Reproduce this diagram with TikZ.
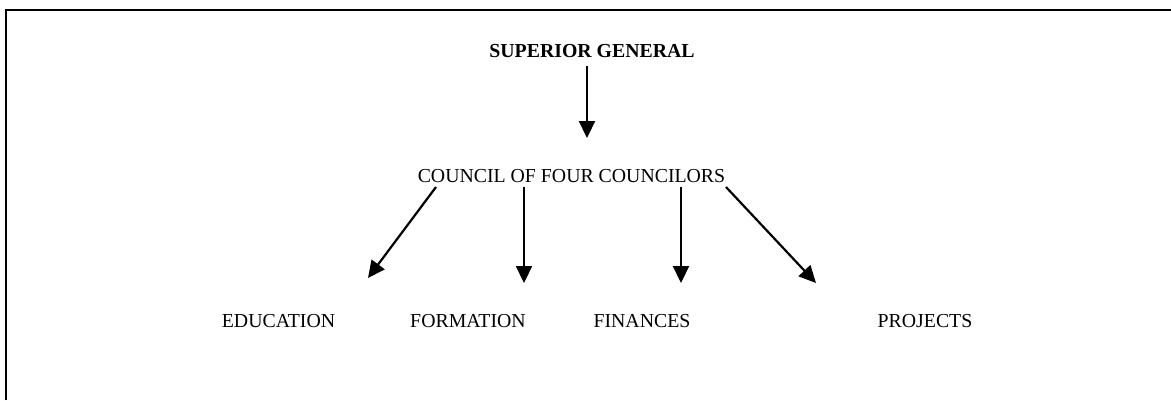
\documentclass[tikz,border=0pt]{standalone}
\usepackage{fontspec}
\setmainfont{Liberation Serif}
\usetikzlibrary{arrows.meta}
\begin{document}
\begin{tikzpicture}[x=1pt,y=-1pt,
  lbl/.style={anchor=base,inner sep=0pt,font=\fontsize{19.8}{23}\selectfont},
  conn/.style={line width=2.2pt,-{Triangle[length=17pt,width=16pt]}},
  frame/.style={line width=2.2pt}]
\useasboundingbox (0,0) rectangle (1171,400);
\draw[frame] (6,400) -- (6,10) -- (1171,10);
\node[lbl,font=\fontsize{19.8}{23}\selectfont\bfseries] (sg) at (592,57) {SUPERIOR GENERAL};
\node[lbl] (council) at (571.5,182) {COUNCIL OF FOUR COUNCILORS};
\node[lbl] (edu) at (278.5,327) {EDUCATION};
\node[lbl] (form) at (468,327) {FORMATION};
\node[lbl] (fin) at (642,327) {FINANCES};
\node[lbl] (proj) at (925,327) {PROJECTS};
\coordinate (s0) at (587,66);
\coordinate (t0) at (587,138);
\coordinate (s1) at (436,187);
\coordinate (t1) at (368,278);
\coordinate (s2) at (524,187);
\coordinate (t2) at (524,283);
\coordinate (s3) at (681,187);
\coordinate (t3) at (681,283);
\coordinate (s4) at (726,187);
\coordinate (t4) at (816,283);
\draw[conn] (s0) -- (t0);
\draw[conn] (s1) -- (t1);
\draw[conn] (s2) -- (t2);
\draw[conn] (s3) -- (t3);
\draw[conn] (s4) -- (t4);
\end{tikzpicture}
\end{document}
